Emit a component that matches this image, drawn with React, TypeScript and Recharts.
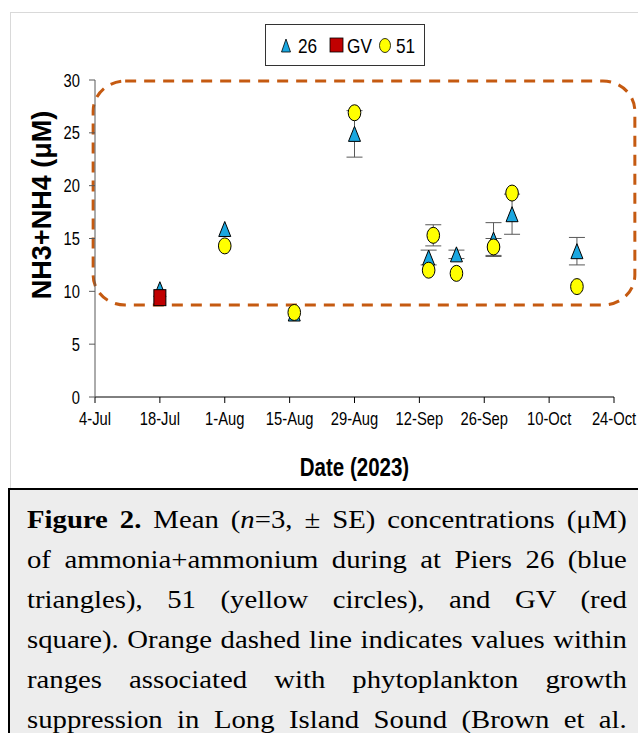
import React from 'react';
import { ScatterChart, Scatter, XAxis, YAxis, ErrorBar, ReferenceArea, Legend } from 'recharts';

// x axis: days since 4-Jul-2023
const tickDays = [0, 14, 28, 42, 56, 70, 84, 98, 112];
const tickLabels = ['4-Jul', '18-Jul', '1-Aug', '15-Aug', '29-Aug', '12-Sep', '26-Sep', '10-Oct', '24-Oct'];
const yTicks = [0, 5, 10, 15, 20, 25, 30];

// Pier 26
const days26 = [14, 28, 43, 56, 72, 78, 86, 90, 104];
const nh26 = [10.2, 15.9, 7.9, 24.9, 13.2, 13.5, 14.9, 17.3, 13.8];
const se26 = [0, 0, 0, 2.2, 0.7, 0.4, 1.6, 1.9, 1.3];

// GV
const daysGV = [14];
const nhGV = [9.4];
const seGV = [0];

// Pier 51
const days51 = [28, 43, 56, 72, 73, 78, 86, 90, 104];
const nh51 = [14.3, 8.0, 26.9, 12.0, 15.3, 11.7, 14.2, 19.3, 10.45];
const se51 = [0, 0, 0, 0, 1.0, 0, 0.8, 0, 0];

// growth suppression range (dashed box)
const boxDays = [-0.4, 116.5];
const boxNH = [8.7, 29.9];

const legendOrder = ['26', 'GV', '51'];

const caption = [
  'of ammonia+ammonium during at Piers 26 (blue',
  'triangles), 51 (yellow circles), and GV (red',
  'square). Orange dashed line indicates values within',
  'ranges associated with phytoplankton growth',
  'suppression in Long Island Sound (Brown et al.',
];

const toRows = (days: number[], vals: number[], se: number[]) =>
  days.map((d, i) => ({ day: d, nh: vals[i], se: se[i] }));

const BLUE = '#1AA7E0';
const RED = '#C00000';
const YELLOW = '#FFFF00';
const SANS = "'Liberation Sans', Arial, sans-serif";
const SQUEEZE = 0.82;

const Tri = ({ cx, cy }: any) => (
  <path d={`M${cx},${cy - 7.5} L${cx + 6},${cy + 7.5} L${cx - 6},${cy + 7.5} Z`} fill={BLUE} stroke="#000" strokeWidth={1} />
);
const Sq = ({ cx, cy }: any) => (
  <rect x={cx - 6} y={cy - 8} width={12} height={16} fill={RED} stroke="#000" strokeWidth={1} />
);
const Oval = ({ cx, cy }: any) => (
  <ellipse cx={cx} cy={cy} rx={6.3} ry={8} fill={YELLOW} stroke="#000" strokeWidth={1} />
);

// narrow text, like the Calibri of the original
const Narrow = ({ x, y, anchor = 'start', size = 18, bold = false, children }: any) => (
  <text transform={`translate(${x},${y}) scale(${SQUEEZE},1)`} textAnchor={anchor} fontFamily={SANS} fontSize={size} fontWeight={bold ? 'bold' : 'normal'} fill="#000">
    {children}
  </text>
);

const XTick = ({ x, y, payload }: any) => (
  <Narrow x={x} y={y + 18} anchor="middle">{tickLabels[tickDays.indexOf(payload.value)]}</Narrow>
);
const YTick = ({ x, y, payload }: any) => (
  <Narrow x={x} y={y + 6.5} anchor="end">{payload.value}</Narrow>
);
const XTitle = ({ viewBox }: any) => (
  <Narrow x={viewBox.x + viewBox.width / 2} y={viewBox.y + viewBox.height - 6} anchor="middle" size={25} bold>Date (2023)</Narrow>
);

const icons: Record<string, (x: number) => React.ReactNode> = {
  '26': (x) => <path d={`M${x + 5},14 L${x + 9.5},27 L${x + 0.5},27 Z`} fill={BLUE} stroke="#000" strokeWidth={0.8} />,
  GV: (x) => <rect x={x} y={13} width={13} height={14} fill={RED} stroke="#000" strokeWidth={0.8} />,
  '51': (x) => <ellipse cx={x + 6} cy={20.5} rx={5.5} ry={7} fill={YELLOW} stroke="#000" strokeWidth={0.8} />,
};

const LegendBox = ({ payload }: any) => {
  const items = legendOrder.filter((n) => (payload || []).some((e: any) => e.value === n));
  return (
    <div style={{ width: 160, height: 42, border: '1px solid #333', background: '#fff', boxSizing: 'border-box' }}>
      <svg width={158} height={40}>
        {items.map((n, i) => {
          const x0 = 15 + i * 49;
          return (
            <g key={n}>
              {icons[n](x0)}
              <Narrow x={x0 + 17} y={28} size={21}>{n}</Narrow>
            </g>
          );
        })}
      </svg>
    </div>
  );
};

const DashedBox = (p: any) => (
  <rect x={p.x} y={p.y} width={p.width} height={p.height} rx={32} ry={30} fill="none" stroke="#C55A11" strokeWidth={3} strokeDasharray="11 8" />
);

const lineStyle: React.CSSProperties = {
  width: 522,
  textAlign: 'justify',
  textAlignLast: 'justify',
  transform: 'scaleX(1.149)',
  transformOrigin: 'left center',
  whiteSpace: 'normal',
};

export default function App() {
  return (
    <div style={{ position: 'fixed', left: 0, top: 0, width: 638, height: 733, overflow: 'hidden', background: '#fff' }}>
      <div style={{ position: 'absolute', left: 8, top: 8, width: 640, height: 740 }}>
        <div style={{ position: 'absolute', left: 2, top: 4, width: 640, height: 480, border: '1px solid #D9D9D9', boxSizing: 'border-box' }} />
        <div style={{ position: 'absolute', left: 0, top: 0 }}>
          <ScatterChart width={632} height={480} margin={{ top: 72, right: 26, bottom: 6, left: 47 }}>
            <XAxis
              type="number"
              dataKey="day"
              domain={[0, 112]}
              ticks={tickDays}
              height={85}
              tickSize={6}
              tickMargin={4}
              stroke="#000"
              tick={XTick}
              label={{ content: XTitle }}
            />
            <YAxis
              type="number"
              dataKey="nh"
              domain={[0, 30]}
              ticks={yTicks}
              width={40}
              tickSize={6}
              tickMargin={9}
              stroke="#595959"
              tick={YTick}
            />
            <ReferenceArea x1={boxDays[0]} x2={boxDays[1]} y1={boxNH[0]} y2={boxNH[1]} ifOverflow="visible" shape={DashedBox} />
            <Legend layout="horizontal" verticalAlign="middle" align="center" content={LegendBox} wrapperStyle={{ top: 16, left: 257, width: 160 }} />
            <Scatter name="26" data={toRows(days26, nh26, se26)} shape={Tri} isAnimationActive={false}>
              <ErrorBar dataKey="se" direction="y" width={8} stroke="#595959" strokeWidth={1} />
            </Scatter>
            <Scatter name="GV" data={toRows(daysGV, nhGV, seGV)} shape={Sq} isAnimationActive={false} />
            <Scatter name="51" data={toRows(days51, nh51, se51)} shape={Oval} isAnimationActive={false}>
              <ErrorBar dataKey="se" direction="y" width={8} stroke="#595959" strokeWidth={1} />
            </Scatter>
          </ScatterChart>
        </div>
        <div style={{ position: 'absolute', left: 34, top: 197, transform: 'translate(-50%, -50%) rotate(-90deg)', whiteSpace: 'nowrap', fontFamily: SANS, fontWeight: 'bold', fontSize: 27, color: '#000' }}>
          NH3+NH4 (μM)
        </div>
        <div style={{ position: 'absolute', left: 0, top: 480, width: 640, height: 260, boxSizing: 'border-box', border: '2px solid #000', background: '#EDEDED', padding: '10px 19px 0 17px', fontFamily: '"Liberation Serif", "Times New Roman", serif', fontSize: 25, lineHeight: '40px', color: '#000' }}>
          <div style={lineStyle}>
            <b>Figure 2.</b> Mean (<i>n</i>=3, ± SE) concentrations (μM)
          </div>
          {caption.map((line) => (
            <div key={line} style={lineStyle}>{line}</div>
          ))}
        </div>
      </div>
    </div>
  );
}
